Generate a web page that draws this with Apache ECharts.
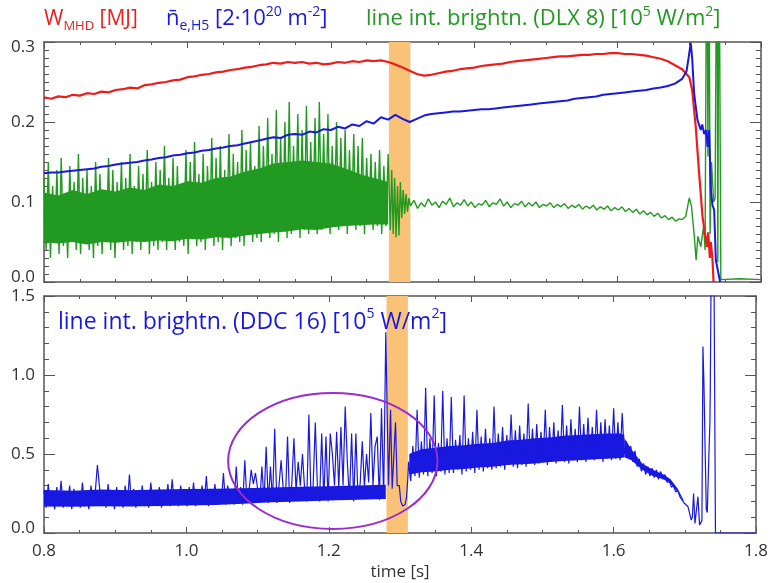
<!DOCTYPE html>
<html><head><meta charset="utf-8">
<script src="https://cdn.jsdelivr.net/npm/echarts@6/dist/echarts.min.js"></script>
<style>html,body{margin:0;padding:0;background:#fff;} #c{width:771px;height:583px;}</style>
</head><body><div id="c"></div>
<script>
// ================= DATA =================
const timeRange = [0.8, 1.8];
const topRange = [0, 0.3];
const bottomRange = [0, 1.5];
const orangeBand = [1.281, 1.311];
const ellipseCenter = [1.2056, 0.456];
const ellipseRadius = [0.147, 0.43];

// W_MHD [MJ] sampled every 10 ms from 0.80 s
const wmhdStart = 0.80, wmhdStep = 0.01;
const wmhdValues = [
0.231,0.229,0.232,0.231,0.234,0.233,0.236,0.235,0.238,0.237,
0.240,0.241,0.243,0.242,0.246,0.247,0.249,0.250,0.252,0.253,
0.256,0.257,0.259,0.260,0.262,0.263,0.265,0.266,0.268,0.269,
0.271,0.272,0.274,0.273,0.275,0.274,0.275,0.273,0.274,0.272,
0.273,0.275,0.274,0.276,0.275,0.277,0.276,0.277,0.275,0.272,
0.268,0.264,0.260,0.258,0.259,0.261,0.263,0.264,0.266,0.267,
0.268,0.270,0.271,0.272,0.273,0.275,0.276,0.277,0.278,0.279,
0.280,0.281,0.282,0.282,0.283,0.284,0.284,0.285,0.285,0.286,
0.286,0.285,0.285,0.284,0.283,0.281,0.279,0.276,0.271,0.266];
const wmhdTailTime  = [1.700,1.704,1.709,1.7137,1.7184,1.7216,1.7245,1.7263,1.7287,1.730,1.7324,1.7338];
const wmhdTailValue = [0.256,0.240,0.194,0.136,0.082,0.062,0.044,0.062,0.030,0.050,0.0275,0.0];

// line-averaged density n_e,H5 [2e20 m^-2], every 10 ms from 0.80 s
const neStart = 0.80, neStep = 0.01;
const neValues = [
0.136,0.137,0.137,0.138,0.139,0.140,0.141,0.142,0.144,0.145,
0.147,0.148,0.149,0.150,0.152,0.153,0.155,0.156,0.158,0.159,
0.161,0.162,0.164,0.165,0.167,0.168,0.170,0.171,0.173,0.175,
0.177,0.179,0.181,0.180,0.184,0.185,0.184,0.188,0.187,0.191,
0.190,0.194,0.192,0.197,0.195,0.201,0.198,0.206,0.203,0.209,
0.204,0.200,0.204,0.208,0.210,0.211,0.212,0.213,0.213,0.214,
0.215,0.216,0.216,0.217,0.218,0.219,0.220,0.221,0.222,0.223,
0.224,0.225,0.226,0.227,0.229,0.230,0.231,0.232,0.234,0.235,
0.236,0.237,0.238,0.239,0.240,0.242,0.243,0.245,0.248,0.254];
const neTailTime  = [1.696,1.699,1.702,1.704,1.7067,1.7114,1.716,1.718,1.7207,1.7235,1.7254,1.7277,1.730,1.7324,1.7347,1.737,1.743];
const neTailValue = [0.263,0.280,0.299,0.280,0.236,0.2025,0.190,0.197,0.185,0.190,0.169,0.190,0.115,0.096,0.090,0.0275,0.0];

// DLX 8 brightness [1e5 W/m^2]: noisy phase, every 3 ms from 0.80 s
const dlxNoisyStart = 0.80, dlxNoisyStep = 0.003;
const dlxNoisyValues = [
0.13,0.04,0.15,0.03,0.12,0.05,0.14,0.035,0.155,0.045,0.11,0.03,0.145,0.05,0.125,0.04,0.16,0.035,0.13,0.05,
0.14,0.04,0.12,0.03,0.15,0.045,0.135,0.035,0.11,0.05,0.155,0.04,0.14,0.03,0.125,0.055,0.15,0.04,0.13,0.045,
0.16,0.035,0.12,0.05,0.145,0.04,0.135,0.055,0.165,0.035,0.125,0.045,0.15,0.04,0.14,0.05,0.17,0.04,0.13,0.055,
0.155,0.04,0.145,0.05,0.12,0.045,0.165,0.035,0.15,0.055,0.175,0.045,0.135,0.05,0.16,0.04,0.145,0.06,0.18,0.045,
0.155,0.05,0.17,0.04,0.14,0.06,0.185,0.045,0.16,0.055,0.15,0.05,0.19,0.045,0.165,0.06,0.175,0.05,0.145,0.055,
0.195,0.05,0.17,0.065,0.205,0.055,0.16,0.06,0.215,0.05,0.18,0.065,0.2,0.055,0.225,0.06,0.17,0.07,0.21,0.055,
0.19,0.065,0.22,0.06,0.175,0.07,0.205,0.06,0.225,0.065,0.185,0.07,0.21,0.06,0.17,0.075,0.2,0.065,0.18,0.07,
0.19,0.06,0.165,0.075,0.185,0.065,0.17,0.07,0.18,0.06,0.155,0.075,0.16,0.065,0.15,0.07,0.165,0.06,0.145,0.07,0.16];
// dense core of the noisy phase (where the trace is solid)
const dlxCoreTime = [0.80,0.82,0.84,0.86,0.88,0.90,0.92,0.94,0.96,0.98,1.00,1.02,1.04,1.06,1.08,1.10,1.12,1.14,1.16,1.18,1.20,1.22,1.24,1.26,1.28];
const dlxCoreLow  = [0.05,0.048,0.05,0.047,0.05,0.049,0.051,0.05,0.052,0.051,0.054,0.053,0.056,0.055,0.058,0.06,0.062,0.063,0.066,0.065,0.068,0.07,0.071,0.072,0.072];
const dlxCoreHigh = [0.112,0.108,0.115,0.11,0.116,0.113,0.118,0.115,0.122,0.12,0.126,0.124,0.13,0.132,0.138,0.142,0.148,0.15,0.152,0.15,0.148,0.142,0.135,0.13,0.125];
const dlxTransTime  = [1.283,1.285,1.287,1.289,1.291,1.293,1.295,1.297,1.299,1.301,1.303,1.305,1.307,1.309];
const dlxTransValue = [0.065,0.14,0.06,0.13,0.056,0.12,0.058,0.125,0.08,0.115,0.085,0.11,0.088,0.105];
// quiet phase, every 5 ms from 1.311 s
const dlxQuietStart = 1.311, dlxQuietStep = 0.005;
const dlxQuietValues = [
0.095,0.102,0.092,0.099,0.094,0.104,0.096,0.1,0.093,0.101,
0.097,0.105,0.094,0.099,0.096,0.103,0.095,0.1,0.093,0.098,
0.096,0.102,0.094,0.099,0.097,0.104,0.095,0.1,0.093,0.098,
0.096,0.101,0.094,0.099,0.095,0.1,0.093,0.097,0.095,0.099,
0.093,0.097,0.094,0.098,0.092,0.096,0.093,0.097,0.091,0.095,
0.092,0.096,0.09,0.094,0.091,0.095,0.089,0.093,0.09,0.094,
0.088,0.092,0.087,0.091,0.085,0.089,0.084,0.087,0.082,0.086,
0.08,0.083,0.078,0.081,0.076,0.079];
const dlxTailTime  = [1.690,1.695,1.700,1.703,1.707,1.7095,1.712,1.716,1.720,1.722,1.7245,1.726,1.7273,1.729,1.731,1.734,1.736,1.7385,1.7398,1.7413,1.744,1.77,1.8];
const dlxTailValue = [0.078,0.082,0.105,0.095,0.057,0.0275,0.057,0.044,0.07,0.04,0.5,0.157,0.5,0.06,0.15,0.1,0.105,0.5,0.025,0.5,0.003,0.004,0.003];

// DDC 16 brightness [1e5 W/m^2]: ELM phase, every 3 ms from 0.80 s
const ddcElmStart = 0.80, ddcElmStep = 0.003;
const ddcElmValues = [
0.27,0.16,0.31,0.17,0.25,0.15,0.29,0.18,0.33,0.16,0.26,0.17,0.3,0.15,0.28,0.18,0.24,0.16,0.32,0.17,
0.27,0.15,0.3,0.18,0.26,0.43,0.29,0.17,0.25,0.16,0.31,0.18,0.27,0.15,0.29,0.17,0.24,0.16,0.3,0.18,
0.37,0.17,0.28,0.16,0.25,0.18,0.3,0.17,0.27,0.16,0.32,0.18,0.26,0.17,0.29,0.16,0.25,0.18,0.31,0.17,
0.34,0.18,0.27,0.17,0.3,0.19,0.26,0.17,0.29,0.18,0.32,0.17,0.27,0.19,0.3,0.18,0.36,0.17,0.28,0.19,
0.31,0.18,0.27,0.19,0.38,0.18,0.3,0.2,0.26,0.18,0.42,0.19,0.29,0.18,0.46,0.2,0.27,0.4,0.31,0.38,
0.28,0.19,0.42,0.2,0.545,0.19,0.42,0.2,0.66,0.19,0.3,0.46,0.28,0.2,0.61,0.19,0.31,0.6,0.27,0.45,
0.3,0.5,0.28,0.2,0.75,0.21,0.3,0.7,0.29,0.2,0.63,0.21,0.61,0.2,0.63,0.5,0.3,0.64,0.28,0.67,
0.3,0.8,0.45,0.21,0.63,0.2,0.63,0.22,0.31,0.58,0.29,0.5,0.32,0.76,0.3,0.55,0.61,0.21,0.79,0.22,1.27];
const ddcElmCoreTime = [0.80,0.84,0.88,0.92,0.96,1.00,1.04,1.08,1.12,1.16,1.20,1.24,1.28];
const ddcElmCoreLow  = [0.168,0.166,0.17,0.168,0.171,0.174,0.177,0.185,0.194,0.199,0.205,0.21,0.215];
const ddcElmCoreHigh = [0.272,0.268,0.275,0.27,0.276,0.278,0.28,0.284,0.288,0.292,0.296,0.3,0.305];
const ddcTransTime  = [1.2838,1.2867,1.289,1.2937,1.296,1.299,1.301,1.304,1.307,1.309,1.311];
const ddcTransValue = [0.3,0.78,0.28,0.70,0.3,0.3,0.2,0.17,0.18,0.22,0.35];
// high phase, every 3 ms from 1.312 s
const ddcHighStart = 1.312, ddcHighStep = 0.003;
const ddcHighValues = [
0.45,0.33,0.55,0.36,0.78,0.35,0.58,0.37,0.92,0.36,0.6,0.38,0.87,0.36,0.57,0.39,0.9,0.37,0.6,0.38,
0.86,0.38,0.59,0.4,0.62,0.37,0.87,0.39,0.6,0.4,0.64,0.38,0.78,0.4,0.61,0.39,0.66,0.41,0.6,0.4,
0.8,0.41,0.63,0.42,0.67,0.4,0.62,0.43,0.75,0.42,0.65,0.41,0.68,0.43,0.63,0.42,0.82,0.44,0.66,0.43,
0.69,0.44,0.64,0.45,0.78,0.43,0.67,0.45,0.7,0.44,0.65,0.46,0.81,0.45,0.68,0.44,0.72,0.46,0.66,0.45,
0.8,0.46,0.69,0.45,0.73,0.47,0.67,0.46,0.78,0.47,0.7,0.45,0.72,0.47,0.68,0.46,0.79,0.47,0.7,0.46,0.76,0.5];
const ddcHighCoreTime = [1.313,1.33,1.35,1.37,1.39,1.41,1.43,1.45,1.47,1.49,1.51,1.53,1.55,1.57,1.59,1.61,1.615];
const ddcHighCoreLow  = [0.37,0.385,0.39,0.4,0.405,0.415,0.42,0.43,0.435,0.44,0.45,0.455,0.46,0.465,0.47,0.475,0.48];
const ddcHighCoreHigh = [0.5,0.53,0.54,0.55,0.555,0.565,0.57,0.585,0.59,0.6,0.605,0.615,0.62,0.625,0.63,0.63,0.62];
// decay phase, every 3 ms from 1.618 s
const ddcDecayStart = 1.618, ddcDecayStep = 0.003;
const ddcDecayValues = [0.58,0.48,0.55,0.45,0.52,0.42,0.47,0.39,0.44,0.37,0.42,0.36,0.41,0.35,0.4,0.34,0.39,0.34,0.37,0.32,0.34,0.29,0.3,0.26,0.27,0.23,0.21,0.19];
const ddcDecayCoreTime = [1.615,1.625,1.64,1.655,1.67,1.68,1.69,1.698];
const ddcDecayCoreLow  = [0.48,0.46,0.40,0.36,0.34,0.31,0.26,0.20];
const ddcDecayCoreHigh = [0.60,0.53,0.44,0.40,0.37,0.34,0.28,0.21];
const ddcTailTime  = [1.7044,1.707,1.709,1.7105,1.7123,1.7142,1.716,1.7184,1.7207,1.724,1.7254,1.7268,1.7282,1.7301,1.7315,1.7338,1.7352,1.7357,1.7375,1.7405,1.743,1.8];
const ddcTailValue = [0.166,0.12,0.082,0.1,0.25,0.06,0.07,0.23,0.05,0.08,1.18,0.95,0.6,0.15,0.13,0.5,0.7,0.89,2.0,2.0,0.0,0.0];

// ================= HELPERS =================
function sampled(t0, dt, vals) { return vals.map((v, i) => [+(t0 + i * dt).toFixed(5), v]); }
function paired(ts, vs) { return ts.map((t, i) => [t, vs[i]]); }
function triple(ts, lo, hi) { return ts.map((t, i) => [t, lo[i], hi[i]]); }

const wmhdData = sampled(wmhdStart, wmhdStep, wmhdValues).concat(paired(wmhdTailTime, wmhdTailValue));
const neData = sampled(neStart, neStep, neValues).concat(paired(neTailTime, neTailValue));
const dlxData = sampled(dlxNoisyStart, dlxNoisyStep, dlxNoisyValues)
  .concat(paired(dlxTransTime, dlxTransValue))
  .concat(sampled(dlxQuietStart, dlxQuietStep, dlxQuietValues))
  .concat(paired(dlxTailTime, dlxTailValue));
const ddcData = sampled(ddcElmStart, ddcElmStep, ddcElmValues)
  .concat(paired(ddcTransTime, ddcTransValue))
  .concat(sampled(ddcHighStart, ddcHighStep, ddcHighValues))
  .concat(sampled(ddcDecayStart, ddcDecayStep, ddcDecayValues))
  .concat(paired(ddcTailTime, ddcTailValue));

// ================= CHART =================
const FAM = '"Open Sans", "Noto Sans", sans-serif';
const AX = '#555';
const RED = '#ee1c1c', BLUE = '#1818e0', GREEN = '#229a22', PURPLE = '#9a2bcc';
const chart = echarts.init(document.getElementById('c'), null, {renderer: 'canvas'});

function xAx(grid, pos, labels) {
  return {
    type: 'value', gridIndex: grid, position: pos, min: timeRange[0], max: timeRange[1], interval: 0.2,
    axisLine: {onZero: false, lineStyle: {color: AX, width: 1.5}},
    axisTick: {inside: true, length: 6, lineStyle: {color: AX, width: 1}},
    minorTick: {show: true, splitNumber: 4, length: 3, lineStyle: {color: AX, width: 1}},
    splitLine: {show: false}, minorSplitLine: {show: false},
    axisLabel: {show: labels, margin: 10, fontSize: 17, fontFamily: FAM, color: '#333',
      formatter: v => v.toFixed(1)},
    name: labels ? 'time [s]' : '', nameLocation: 'middle', nameGap: 31,
    nameTextStyle: {fontSize: 17, fontFamily: FAM, color: '#333'}
  };
}
function yAx(grid, pos, range, interval, minorSplit, labels, shiftMax) {
  return {
    type: 'value', gridIndex: grid, position: pos, min: range[0], max: range[1], interval: interval,
    axisLine: {onZero: false, lineStyle: {color: AX, width: 1.5}},
    axisTick: {inside: true, length: 11, lineStyle: {color: AX, width: 1}},
    minorTick: {show: true, splitNumber: minorSplit, length: 5, lineStyle: {color: AX, width: 1}},
    splitLine: {show: false}, minorSplitLine: {show: false},
    axisLabel: {show: labels, margin: 9, fontSize: 17, fontFamily: FAM, color: '#333', lineHeight: 10,
      verticalAlignMinLabel: 'bottom', verticalAlignMaxLabel: shiftMax ? 'top' : 'middle',
      formatter: v => v.toFixed(1)}
  };
}

const bandStyle = {silent: true, itemStyle: {color: 'rgb(250,194,118)'},
  data: [[{xAxis: orangeBand[0]}, {xAxis: orangeBand[1]}]]};

// filled core of a dense noisy trace, drawn through the axes
function coreSeries(xi, yi, data, color) {
  return {
    type: 'custom', xAxisIndex: xi, yAxisIndex: yi, data: data, z: 2, silent: true,
    encode: {x: 0, y: [1, 2]},
    renderItem: function (params, api) {
      if (params.dataIndex !== 0) return null;
      const up = [], dn = [];
      for (let i = 0; i < data.length; i++) {
        up.push(api.coord([data[i][0], data[i][2]]));
        dn.unshift(api.coord([data[i][0], data[i][1]]));
      }
      return {type: 'polygon', shape: {points: up.concat(dn)}, style: {fill: color, stroke: null}};
    }
  };
}

const option = {
  animation: false,
  backgroundColor: '#fff',
  grid: [
    {left: 44, right: 10, top: 42, height: 240},
    {left: 44, right: 10, top: 296, height: 237}
  ],
  xAxis: [xAx(0, 'bottom', false), xAx(0, 'top', false), xAx(1, 'bottom', true), xAx(1, 'top', false)],
  yAxis: [
    yAx(0, 'left', topRange, 0.1, 10, true, true), yAx(0, 'right', topRange, 0.1, 10, false, true),
    yAx(1, 'left', bottomRange, 0.5, 5, true, false), yAx(1, 'right', bottomRange, 0.5, 5, false, false)
  ],
  series: [
    {type: 'line', xAxisIndex: 0, yAxisIndex: 0, data: [], markArea: bandStyle, z: 1},
    {type: 'line', xAxisIndex: 2, yAxisIndex: 2, data: [], markArea: bandStyle, z: 1},
    coreSeries(0, 0, triple(dlxCoreTime, dlxCoreLow, dlxCoreHigh), GREEN),
    coreSeries(2, 2, triple(ddcElmCoreTime, ddcElmCoreLow, ddcElmCoreHigh), BLUE),
    coreSeries(2, 2, triple(ddcHighCoreTime, ddcHighCoreLow, ddcHighCoreHigh), BLUE),
    coreSeries(2, 2, triple(ddcDecayCoreTime, ddcDecayCoreLow, ddcDecayCoreHigh), BLUE),
    {name: 'DLX 8', type: 'line', xAxisIndex: 0, yAxisIndex: 0, data: dlxData, showSymbol: false,
      lineStyle: {color: GREEN, width: 1.4, join: 'bevel'}, z: 2},
    {name: 'W_MHD', type: 'line', xAxisIndex: 0, yAxisIndex: 0, data: wmhdData, showSymbol: false,
      lineStyle: {color: RED, width: 2.2, join: 'bevel'}, z: 3},
    {name: 'n_e', type: 'line', xAxisIndex: 0, yAxisIndex: 0, data: neData, showSymbol: false,
      lineStyle: {color: BLUE, width: 2, join: 'bevel'}, z: 4},
    {name: 'DDC 16', type: 'line', xAxisIndex: 2, yAxisIndex: 2, data: ddcData, showSymbol: false,
      lineStyle: {color: BLUE, width: 1.2, join: 'bevel'}, z: 2}
  ]
};
chart.setOption(option);

function rich(color, size) {
  const sm = Math.round(size * 0.63);
  return {
    m: {font: size + 'px ' + FAM, fill: color, lineHeight: size + 6},
    s: {font: sm + 'px ' + FAM, fill: color, lineHeight: sm, verticalAlign: 'bottom'},
    p: {font: sm + 'px ' + FAM, fill: color, lineHeight: sm, verticalAlign: 'top'}
  };
}
function label(x, y, text, color, size) {
  return {type: 'text', x: x, y: y, z: 10,
    style: {text: text, rich: rich(color, size), fill: color, font: size + 'px ' + FAM, verticalAlign: 'middle'}};
}
const c = chart.convertToPixel({gridIndex: 1}, ellipseCenter);
const e = chart.convertToPixel({gridIndex: 1}, [ellipseCenter[0] + ellipseRadius[0], ellipseCenter[1] + ellipseRadius[1]]);
chart.setOption({
  graphic: [
    label(44, 19, '{m|W}{s|MHD}{m| [MJ]}', RED, 21),
    label(166, 19, '{m|n\u0304}{s|e,H5}{m| [2·10}{p|20}{m| m}{p|-2}{m|]}', BLUE, 22),
    label(366, 19, '{m|line int. brightn. (DLX 8) [10}{p|5}{m| W/m}{p|2}{m|]}', GREEN, 22),
    label(58, 322, '{m|line int. brightn. (DDC 16) [10}{p|5}{m| W/m}{p|2}{m|]}', BLUE, 23),
    {type: 'ellipse', z: 10, silent: true,
      shape: {cx: c[0], cy: c[1], rx: Math.abs(e[0] - c[0]), ry: Math.abs(c[1] - e[1])},
      style: {fill: 'none', stroke: PURPLE, lineWidth: 2}}
  ]
});
</script></body></html>
